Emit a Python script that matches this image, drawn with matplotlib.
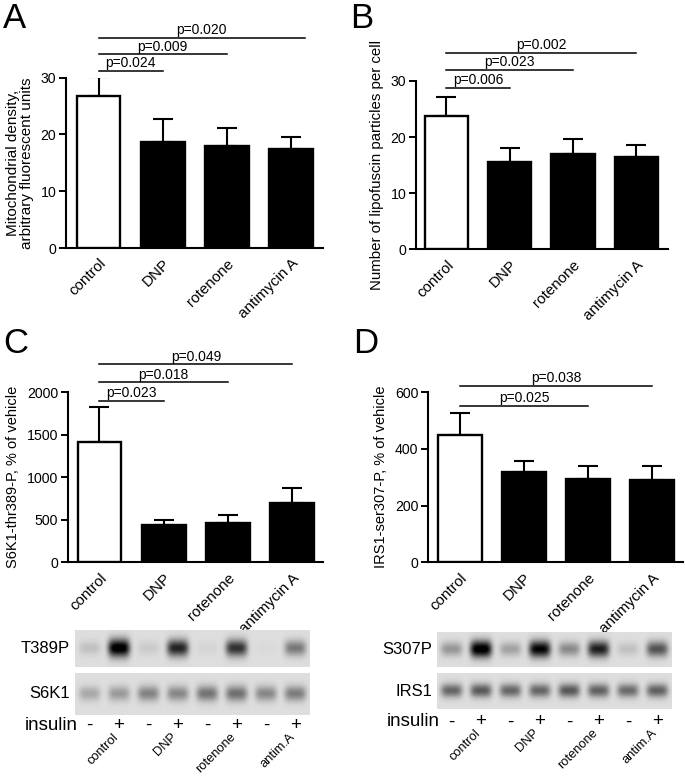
import numpy as np
import matplotlib
matplotlib.use("Agg")
import matplotlib.pyplot as plt

plt.rcParams['font.family'] = ['Liberation Sans', 'DejaVu Sans']

W, H = 685, 778

categories = ["control", "DNP", "rotenone", "antimycin A"]

# Panel A
a_vals = [26.8, 18.6, 18.0, 17.4]
a_err = [3.3, 4.1, 3.1, 2.2]
# Panel B
b_vals = [23.8, 15.6, 16.9, 16.5]
b_err = [3.3, 2.4, 2.7, 2.1]
# Panel C
c_vals = [1410, 438, 465, 693]
c_err = [417, 59, 87, 179]
# Panel D
d_vals = [449, 319, 295, 290]
d_err = [76, 39, 44, 49]

a_sig = [("p=0.024", 1, 31.2), ("p=0.009", 2, 34.1), ("p=0.020", 3.22, 37.0)]
b_sig = [("p=0.006", 1, 28.8), ("p=0.023", 2, 32.0), ("p=0.002", 3, 35.0)]
c_sig = [("p=0.023", 1, 1897), ("p=0.018", 2, 2113), ("p=0.049", 3, 2325)]
d_sig = [("p=0.025", 2, 551), ("p=0.038", 3, 621)]

# Western blot band intensities (0 = none, 1 = saturated), 8 lanes
lanes_insulin = ["-", "+", "-", "+", "-", "+", "-", "+"]
blot_groups = ["control", "DNP", "rotenone", "antim.A"]
t389p = [0.12, 1.0, 0.08, 0.78, 0.04, 0.72, 0.02, 0.42]
s6k1 = [0.22, 0.28, 0.38, 0.36, 0.44, 0.46, 0.36, 0.40]
s307p = [0.30, 1.0, 0.25, 0.92, 0.35, 0.80, 0.12, 0.58]
irs1 = [0.50, 0.55, 0.50, 0.50, 0.56, 0.52, 0.48, 0.52]

fig = plt.figure(figsize=(W / 100, H / 100), dpi=100)


def fx(x):
    return x / W


def fy(y):
    return 1 - y / H


def add_ax(left, right, top, bottom):
    return fig.add_axes([fx(left), fy(bottom), (right - left) / W, (bottom - top) / H])


def bar_panel(ax, vals, errs, ymax, yticks, ylabel, sig, xlim, ylfs):
    x = np.arange(len(vals))
    colors = ["white", "black", "black", "black"]
    ax.bar(x, vals, width=0.68, color=colors, edgecolor="black", linewidth=1.7, zorder=3)
    ax.errorbar(x, vals, yerr=[np.zeros(len(vals)), errs], fmt="none", ecolor="black",
                elinewidth=1.5, capsize=7.5, capthick=1.5, zorder=2)
    ax.set_ylim(0, ymax)
    ax.set_xlim(*xlim)
    ax.set_yticks(yticks)
    ax.set_xticks(x)
    ax.set_xticklabels(categories, rotation=45, ha="right", va="top",
                       rotation_mode="anchor", fontsize=11)
    ax.tick_params(axis="y", labelsize=10.2, width=1.4, length=5, direction="out", pad=2)
    ax.tick_params(axis="x", length=0, pad=6)
    for s in ["top", "right"]:
        ax.spines[s].set_visible(False)
    for s in ["left", "bottom"]:
        ax.spines[s].set_linewidth(1.5)
    ax.set_ylabel(ylabel, fontsize=ylfs, labelpad=5, linespacing=0.95)
    for label, end, yv in sig:
        ax.plot([0, end], [yv, yv], color="black", lw=1.1, clip_on=False)
        ax.text(end / 2, yv + ymax * 0.004, label, ha="center", va="bottom",
                fontsize=10, clip_on=False)


axA = add_ax(66, 323, 77.7, 248)
bar_panel(axA, a_vals, a_err, 30, [0, 10, 20, 30],
          "Mitochondrial density,\narbitrary fluorescent units", a_sig, (-0.51, 3.5), 11)

axB = add_ax(416, 668, 81, 249.3)
bar_panel(axB, b_vals, b_err, 30, [0, 10, 20, 30],
          "Number of lipofuscin particles per cell", b_sig, (-0.48, 3.5), 10.8)

axC = add_ax(68, 323, 392, 562.3)
bar_panel(axC, c_vals, c_err, 2000, [0, 500, 1000, 1500, 2000],
          "S6K1-thr389-P, % of vehicle", c_sig, (-0.49, 3.48), 10.5)

axD = add_ax(428, 683, 392, 562.3)
bar_panel(axD, d_vals, d_err, 600, [0, 200, 400, 600],
          "IRS1-ser307-P, % of vehicle", d_sig, (-0.5, 3.48), 10.5)

# Panel letters
for letter, x, y in [("A", 3, 28), ("B", 350, 28), ("C", 3, 353), ("D", 353, 353)]:
    fig.text(fx(x), fy(y), letter, fontsize=25, ha="left", va="baseline")


def blot_image(intens, bg=0.87, nx=240, ny=40, sx=0.37, sy=0.18):
    xs = (np.arange(nx) + 0.5) / nx * len(intens)
    ys = (np.arange(ny) + 0.5) / ny
    dark = np.zeros((ny, nx))
    for i, v in enumerate(intens):
        cx = i + 0.5
        gx = np.exp(-((xs - cx) / sx) ** 4)
        gy = np.exp(-((ys - 0.5) / (sy * (1 + 0.3 * v))) ** 2)
        dark += v * np.outer(gy, gx)
    img = bg - np.clip(dark, 0, 1.2) * 0.95
    return np.clip(img, 0, 1)


def blot(left, right, top, bottom, intens, label, sy=0.18):
    ax = add_ax(left, right, top, bottom)
    ax.imshow(blot_image(intens, sy=sy), cmap="gray", vmin=0, vmax=1,
              aspect="auto", interpolation="bilinear", extent=(0, 8, 1, 0))
    ax.set_axis_off()
    fig.text(fx(left - 5), fy((top + bottom) / 2), label, fontsize=12,
             ha="right", va="center")
    return ax


blot(75, 310, 630, 667, t389p, "T389P")
blot(75, 310, 673, 715, s6k1, "S6K1", sy=0.16)
blot(437, 672, 632, 667, s307p, "S307P")
blot(437, 672, 673, 709, irs1, "IRS1", sy=0.16)


def blot_labels(left, right, ins_y, lab_y):
    lw = (right - left) / 8
    fig.text(fx(left + 3), fy(ins_y), "insulin", fontsize=13.5, ha="right", va="center")
    for i, s in enumerate(lanes_insulin):
        fig.text(fx(left + lw * (i + 0.5)), fy(ins_y), s, fontsize=13.5,
                 ha="center", va="center")
    for g, name in enumerate(blot_groups):
        cx = left + lw * (2 * g + 1) + 8
        fig.text(fx(cx), fy(lab_y), name, fontsize=9.3, rotation=45,
                 ha="right", va="top", rotation_mode="anchor")


blot_labels(75, 310, 725, 731)
blot_labels(437, 672, 722, 727)

fig.savefig("out.png", dpi=100)
